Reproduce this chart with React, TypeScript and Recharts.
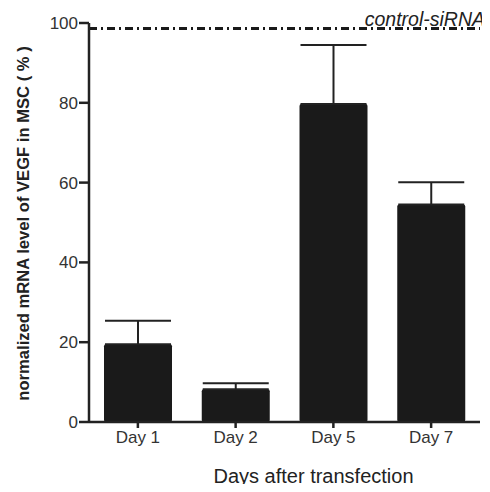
import { BarChart, Bar, XAxis, YAxis, ErrorBar, ReferenceLine } from 'recharts';

const days = ['Day 1', 'Day 2', 'Day 5', 'Day 7'];
const meanLevel = [19.5, 8.2, 79.7, 54.5];
const upperError = [5.9, 1.5, 14.8, 5.6];
const yTicks = [0, 20, 40, 60, 80, 100];
const controlLevel = 98.6;

const FONT = '"Liberation Sans", Arial, sans-serif';

const data = days.map((day, i) => ({
  day,
  value: meanLevel[i],
  err: [0, upperError[i]],
}));

const ControlLabel = (props: any) => {
  const { viewBox } = props;
  return (
    <text
      x={viewBox.x + viewBox.width + 5}
      y={viewBox.y - 3}
      textAnchor="end"
      fontFamily={FONT}
      fontStyle="italic"
      fontSize={19.5}
      fill="#222"
    >
      control-siRNA
    </text>
  );
};

const XTitle = (props: any) => {
  const { viewBox } = props;
  return (
    <text
      x={viewBox.x + viewBox.width / 2 + 29}
      y={viewBox.y + 61}
      textAnchor="middle"
      fontFamily={FONT}
      fontSize={20}
      fill="#222"
    >
      Days after transfection
    </text>
  );
};

const YTitle = (props: any) => {
  const { viewBox } = props;
  const cx = 23;
  const cy = viewBox.y + viewBox.height / 2 + 1;
  return (
    <text
      x={cx}
      y={cy}
      transform={`rotate(-90 ${cx} ${cy})`}
      textAnchor="middle"
      dominantBaseline="central"
      fontFamily={FONT}
      fontWeight="bold"
      fontSize={16.6}
      fill="#222"
    >
      normalized mRNA level of VEGF in MSC ( % )
    </text>
  );
};

export default function App() {
  return (
    <div style={{ width: 490, height: 492, margin: -8, background: '#fff' }}>
      <BarChart
        width={490}
        height={492}
        data={data}
        margin={{ top: 23, right: 10, left: 0, bottom: 0 }}
        barCategoryGap={15}
      >
        <XAxis
          dataKey="day"
          height={70}
          axisLine={{ stroke: '#222', strokeWidth: 2.5 }}
          tickLine={{ stroke: '#222', strokeWidth: 2.5 }}
          tickSize={6}
          tickMargin={3}
          tick={{ fontSize: 17, fill: '#333', fontFamily: FONT }}
          label={<XTitle />}
        />
        <YAxis
          width={89}
          domain={[0, 100]}
          ticks={yTicks}
          interval={0}
          axisLine={{ stroke: '#222', strokeWidth: 2.5 }}
          tickLine={{ stroke: '#222', strokeWidth: 2.5 }}
          tickSize={10}
          tickMargin={1}
          tick={{ fontSize: 17, fill: '#333', fontFamily: FONT }}
          label={<YTitle />}
        />
        <ReferenceLine
          y={controlLevel}
          stroke="#1a1a1a"
          strokeWidth={3}
          strokeDasharray="8 4 2 4"
          label={<ControlLabel />}
        />
        <Bar dataKey="value" fill="#1a1a1a" radius={2} isAnimationActive={false}>
          <ErrorBar dataKey="err" direction="y" width={33} stroke="#222" strokeWidth={2} />
        </Bar>
      </BarChart>
    </div>
  );
}
